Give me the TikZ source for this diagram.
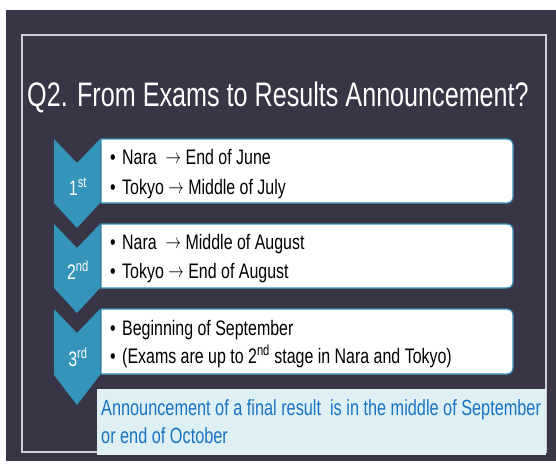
\documentclass[tikz,border=0pt]{standalone}
\usepackage{fontspec}
\setmainfont{Liberation Sans}
\newfontfamily\titlefont{Liberation Sans}[FakeStretch=0.74]
\newfontfamily\bodyfont{Liberation Sans}[FakeStretch=0.76]
\newfontfamily\notefont{Liberation Sans}[FakeStretch=0.74]
\definecolor{bgdark}{RGB}{56,53,70}
\definecolor{teal}{RGB}{52,148,186}
\definecolor{framegray}{RGB}{205,205,214}
\definecolor{notefill}{RGB}{222,240,244}
\definecolor{noteblue}{RGB}{25,115,195}
\newcommand{\myarr}{\raisebox{0.5pt}{\scalebox{0.75}[1]{$\rightarrow$}}}
\tikzset{
  chev/.style={fill=teal, draw=none},
  itembox/.style={fill=white, draw=teal, line width=1.2pt},
  txt/.style={anchor=base west, inner sep=0pt, text=black, font=\bodyfont\fontsize{21}{25}\selectfont},
  bul/.style={anchor=base west, inner sep=0pt, text=black, font=\bodyfont\fontsize{21}{25}\selectfont},
  lab/.style={anchor=base, inner sep=0pt, text=white, font=\bodyfont\fontsize{21}{25}\selectfont},
  note/.style={anchor=base west, inner sep=0pt, text=noteblue, font=\notefont\fontsize{22}{26}\selectfont},
}
\begin{document}
\begin{tikzpicture}[x=1pt,y=-1pt]
\useasboundingbox (0,0) rectangle (556,471);
% background
\fill[bgdark] (6,10) rectangle (556,461);
% frame
\draw[framegray, line width=1.5pt] (22,35) rectangle (546,452);
% title
\node[anchor=base west, inner sep=0pt, text=white, font=\titlefont\fontsize{34}{40}\selectfont] (title) at (27,106) {Q2. From Exams to Results Announcement?};
% item boxes
\draw[itembox] (101,171) -- (101,139) -- (300,139) [rounded corners=6] -- (513,139) -- (513,203) -- (300,203) [sharp corners] -- (101,203) -- cycle;
\draw[itembox] (101,256) -- (101,224) -- (300,224) [rounded corners=6] -- (513,224) -- (513,288) -- (300,288) [sharp corners] -- (101,288) -- cycle;
\draw[itembox] (101,341) -- (101,309) -- (300,309) [rounded corners=6] -- (513,309) -- (513,374) -- (300,374) [sharp corners] -- (101,374) -- cycle;
% chevrons
\fill[chev] (54,139) -- (77,163) -- (100,139) -- (100,203) -- (77,228) -- (54,203) -- cycle;
\fill[chev] (54,224) -- (77,248) -- (100,224) -- (100,288) -- (77,313) -- (54,288) -- cycle;
\fill[chev] (54,309) -- (77,333) -- (100,309) -- (100,375) -- (77,405) -- (54,375) -- cycle;
% chevron labels
\node[lab] (l1) at (78,195) {1\textsuperscript{st}};
\node[lab] (l2) at (78,279) {2\textsuperscript{nd}};
\node[lab] (l3) at (78,366) {3\textsuperscript{rd}};
% box texts
\node[bul] (b1a) at (110,164) {•};
\node[txt] (t1a) at (122,164) {Nara~~\myarr\ End of June};
\node[bul] (b1b) at (110,194) {•};
\node[txt] (t1b) at (122,194) {Tokyo \myarr\ Middle of July};
\node[bul] (b2a) at (110,249) {•};
\node[txt] (t2a) at (122,249) {Nara~~\myarr\ Middle of August};
\node[bul] (b2b) at (110,278) {•};
\node[txt] (t2b) at (122,278) {Tokyo \myarr\ End of August};
\node[bul] (b3a) at (110,335) {•};
\node[txt] (t3a) at (122,335) {Beginning of September};
\node[bul] (b3b) at (110,363) {•};
\node[txt] (t3b) at (122,363) {(Exams are up to 2\textsuperscript{nd} stage in Nara and Tokyo)};
% note box
\fill[notefill] (97,389) rectangle (546,455);
\node[note] (n1) at (101,415) {Announcement of a final result~~is in the middle of September};
\node[note] (n2) at (101,443) {or end of October};
\end{tikzpicture}
\end{document}
